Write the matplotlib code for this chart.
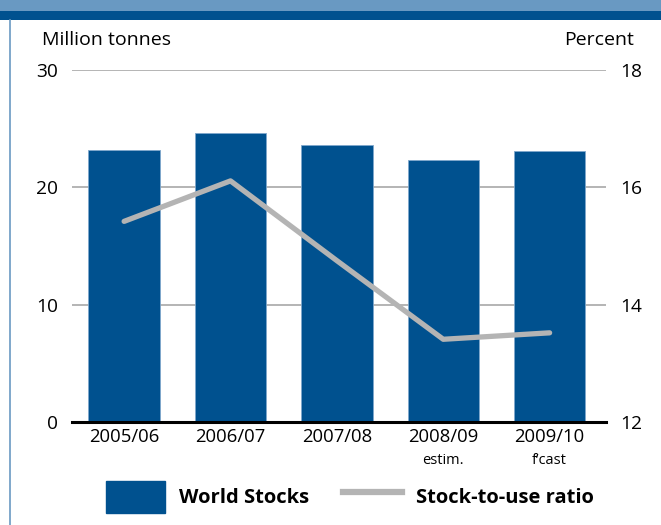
import matplotlib
matplotlib.use("Agg")
import matplotlib.pyplot as plt
from matplotlib.patches import Rectangle
from matplotlib.lines import Line2D

plt.rcParams['font.family'] = ['Open Sans', 'DejaVu Sans']

seasons = ['2005/06', '2006/07', '2007/08', '2008/09', '2009/10']
notes = ['', '', '', 'estim.', 'f\u2019cast']
world_stocks = [23.2, 24.6, 23.6, 22.3, 23.1]      # million tonnes
stock_to_use = [15.42, 16.11, 14.75, 13.41, 13.52]  # percent

blue = '#00518f'
light_blue = '#6999c2'
grey = '#b4b4b4'

fig = plt.figure(figsize=(6.61, 5.25), dpi=100)

# header bands and left border
fig.add_artist(Rectangle((0, 1 - 11/525), 1, 11/525, transform=fig.transFigure,
                         color=light_blue, lw=0))
fig.add_artist(Rectangle((0, 1 - 20/525), 1, 9/525, transform=fig.transFigure,
                         color=blue, lw=0))
fig.add_artist(Line2D([10/661, 10/661], [0, 1 - 20/525], transform=fig.transFigure,
                      color=light_blue, lw=1.2))

ax = fig.add_axes([72/661, 1 - 422/525, 534/661, 352/525])
x = range(len(seasons))

for v in [10, 20, 30]:
    ax.axhline(v, color='#a8a8a8', lw=1.2, zorder=0)

ax.bar(x, world_stocks, width=0.67, color=blue, edgecolor='#7fa7cc', lw=0.6, zorder=2)
ax.set_xlim(-0.49, 4.53)
ax.set_ylim(0, 30)
ax.set_yticks([0, 10, 20, 30])
ax.tick_params(axis='y', length=0, pad=10, labelsize=13.8)
ax.set_xticks(list(x))
ax.set_xticklabels(seasons, fontsize=13.3)
ax.tick_params(axis='x', length=0, pad=4)
for i, n in enumerate(notes):
    if n:
        ax.text(i, -0.088, n, transform=ax.get_xaxis_transform(), ha='center',
                va='top', fontsize=10.5)

for s in ['top', 'right', 'left']:
    ax.spines[s].set_visible(False)
ax.spines['bottom'].set_linewidth(2.2)
ax.spines['bottom'].set_zorder(5)

ax2 = ax.twinx()
ax2.plot(list(x), stock_to_use, color=grey, lw=3.8, solid_capstyle='round', zorder=3)
ax2.set_ylim(12, 18)
ax2.set_yticks([12, 14, 16, 18])
ax2.tick_params(axis='y', length=0, pad=10, labelsize=13.8)
for s in ['top', 'right', 'left', 'bottom']:
    ax2.spines[s].set_visible(False)

fig.text(42/661, 1 - 40/525, 'Million tonnes', fontsize=14, va='center', ha='left')
fig.text(634/661, 1 - 40/525, 'Percent', fontsize=14, va='center', ha='right')

handles = [Rectangle((0, 0), 1, 1, color=blue),
           Line2D([0], [0], color=grey, lw=4.5)]
fig.legend(handles, ['World Stocks', 'Stock-to-use ratio'], ncol=2, frameon=False,
           loc='center', bbox_to_anchor=(350/661, 1 - 497/525),
           prop={'weight': 'bold', 'size': 14.5},
           handlelength=2.9, handleheight=2.05, handletextpad=0.7, columnspacing=1.7)

fig.savefig('out.png', dpi=100)
